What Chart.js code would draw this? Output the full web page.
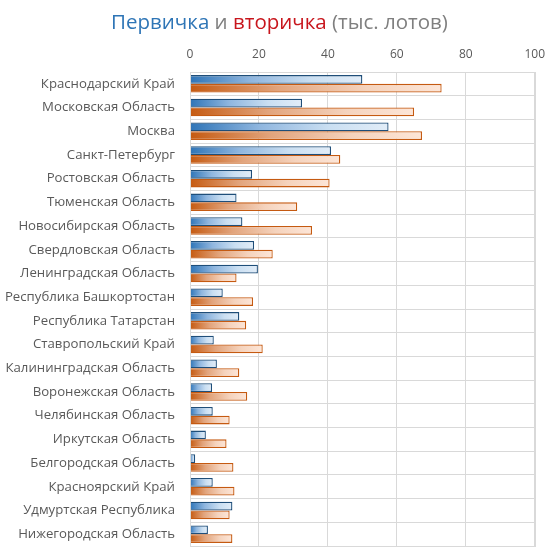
<!DOCTYPE html>
<html>
<head>
<meta charset="utf-8">
<script src="https://cdn.jsdelivr.net/npm/chart.js@4"></script>
<style>
  html, body { margin: 0; padding: 0; background: #fff; }
  #wrap { position: relative; width: 555px; height: 554px; }
  #title { position: absolute; left: 0; top: 7px; width: 559px; text-align: center;
           font-family: 'Open Sans', 'Noto Sans', sans-serif; font-size: 20.5px; color: #7f7f7f; white-space: nowrap; }
  #title .p { color: #2e75b6; }
  #title .v { color: #c8161d; }
  canvas { position: absolute; left: 0; top: 0; }
</style>
</head>
<body>
<div id="wrap">
  <canvas id="c" width="555" height="554"></canvas>
  <div id="title"><span class="p">Первичка</span> и <span class="v">вторичка</span> (тыс. лотов)</div>
</div>
<script>
const categories = [
  "Краснодарский Край", "Московская Область", "Москва", "Санкт-Петербург",
  "Ростовская Область", "Тюменская Область", "Новосибирская Область", "Свердловская Область",
  "Ленинградская Область", "Республика Башкортостан", "Республика Татарстан", "Ставропольский Край",
  "Калининградская Область", "Воронежская Область", "Челябинская Область", "Иркутская Область",
  "Белгородская Область", "Красноярский Край", "Удмуртская Республика", "Нижегородская Область"
];
const primaryValues = [50, 32.5, 57.6, 40.9, 18.0, 13.5, 15.2, 18.6, 19.7, 9.5, 14.3, 6.9, 7.8, 6.4, 6.6, 4.6, 1.5, 6.6, 12.3, 5.2];
const secondaryValues = [73.0, 65.0, 67.3, 43.6, 40.5, 31.1, 35.4, 24.0, 13.5, 18.3, 16.3, 21.1, 14.3, 16.6, 11.5, 10.6, 12.6, 12.9, 11.5, 12.3];
const xTicks = [0, 20, 40, 60, 80, 100];

function gradientFill(stops, fallback) {
  return function (context) {
    const chart = context.chart;
    if (!chart.chartArea) return fallback;
    const xs = chart.scales.x;
    const x0 = xs.getPixelForValue(0);
    const x1 = xs.getPixelForValue(context.raw);
    if (Math.abs(x1 - x0) < 1) return fallback;
    const g = chart.ctx.createLinearGradient(x0, 0, x1, 0);
    stops.forEach(s => g.addColorStop(s[0], s[1]));
    return g;
  };
}

const blueStops = [[0, '#2e74b7'], [0.35, '#8fb6df'], [0.7, '#cadff2'], [1, '#e2edf8']];
const orangeStops = [[0, '#c55a11'], [0.35, '#e2a47c'], [0.7, '#f5d3bd'], [1, '#fde6d8']];

new Chart(document.getElementById('c'), {
  type: 'bar',
  data: {
    labels: categories,
    datasets: [
      {
        label: 'Первичка',
        data: primaryValues,
        backgroundColor: gradientFill(blueStops, '#5b9bd5'),
        borderColor: '#1f4e79',
        borderWidth: 1.3,
        categoryPercentage: 0.74,
        barPercentage: 1.0
      },
      {
        label: 'Вторичка',
        data: secondaryValues,
        backgroundColor: gradientFill(orangeStops, '#e58f5a'),
        borderColor: '#c55a11',
        borderWidth: 1.3,
        categoryPercentage: 0.74,
        barPercentage: 1.0
      }
    ]
  },
  options: {
    indexAxis: 'y',
    responsive: false,
    animation: false,
    devicePixelRatio: 1,
    layout: { padding: { left: 0, right: 13, top: 0, bottom: 8 } },
    plugins: { legend: { display: false }, title: { display: false }, tooltip: { enabled: false } },
    scales: {
      x: {
        position: 'top',
        min: 0, max: 100,
        afterBuildTicks: (s) => { s.ticks = xTicks.map(v => ({ value: v })); },
        afterFit: (s) => { s.height = 72; },
        ticks: { color: '#595959', font: { family: "'Open Sans', sans-serif", size: 12 }, padding: 10 },
        grid: { color: '#d9d9d9', lineWidth: 1, drawTicks: false },
        border: { color: '#d9d9d9', width: 1 }
      },
      y: {
        afterFit: (s) => { s.width = 190; s.paddingTop = 0; s.paddingBottom = 0; },
        ticks: { color: '#595959', font: { family: "'Open Sans', sans-serif", size: 13.2 }, padding: 15, autoSkip: false },
        grid: { color: '#d9d9d9', lineWidth: 1, drawTicks: false, offset: true },
        border: { color: '#d9d9d9', width: 1 }
      }
    }
  },
  plugins: [{
    id: 'frame',
    afterDraw(chart) {
      const { ctx, chartArea: a } = chart;
      ctx.save();
      ctx.strokeStyle = '#d9d9d9';
      ctx.lineWidth = 1;
      ctx.strokeRect(Math.round(a.left) + 0.5, Math.round(a.top) + 0.5, Math.round(a.right - a.left), Math.round(a.bottom - a.top));
      ctx.restore();
    }
  }]
});
</script>
</body>
</html>
